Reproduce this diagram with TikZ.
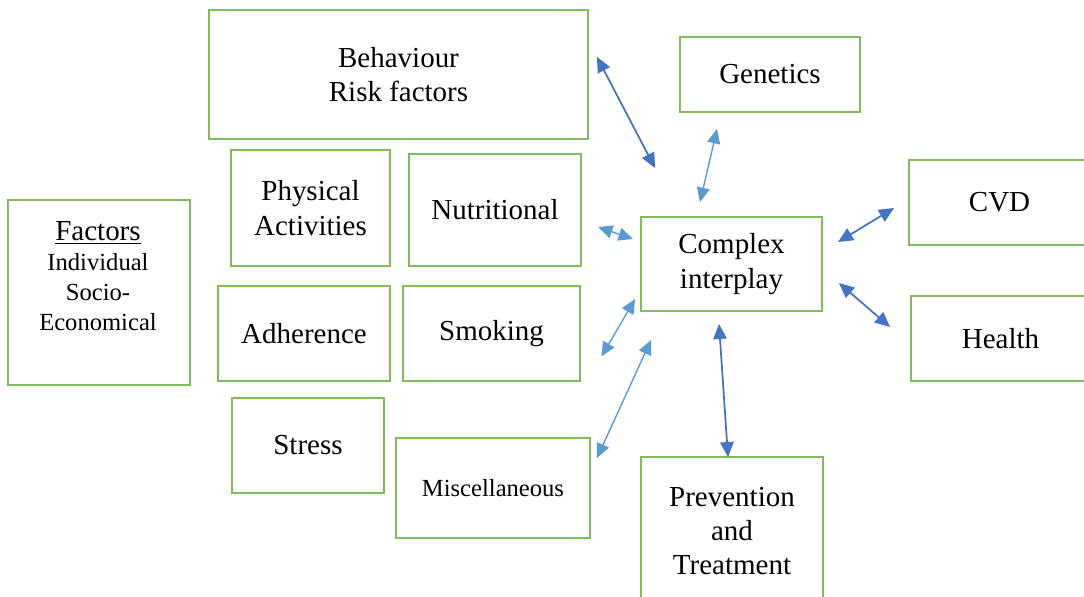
\documentclass[tikz,border=0pt]{standalone}
\usepackage{fontspec}
\setmainfont{Liberation Serif}
\usetikzlibrary{arrows.meta, positioning}

\definecolor{boxgreen}{HTML}{80BC5E}
\definecolor{darkblue}{HTML}{4472C4}
\definecolor{lightblue}{HTML}{5B9BD5}

\begin{document}
\begin{tikzpicture}[
    x=0.02cm, y=-0.02cm,
    box/.style={draw=boxgreen, line width=1.1pt, inner sep=0pt,
        align=center, font=\fontsize{16.5}{19.5}\selectfont},
    sz/.style 2 args={minimum width=#1*0.02cm, minimum height=#2*0.02cm},
    smalltxt/.style={font=\fontsize{14}{17}\selectfont},
    darr/.style={{Triangle[length=3mm, width=2.7mm]}-{Triangle[length=3mm, width=2.7mm]},
        line width=1pt, darkblue},
    larr/.style={{Triangle[length=2.9mm, width=2.6mm]}-{Triangle[length=2.9mm, width=2.6mm]},
        line width=0.8pt, lightblue},
]
    \clip (0,0) rectangle (1084,596);

    % Boxes
    \node[box, sz={379}{129}] (beh) at (398.5,74.5) {Behaviour\\Risk factors};
    \node[box, sz={180}{75}] (gen) at (770,74.5) {Genetics};
    \node[box, sz={159}{116}] (phys) at (310.5,208) {Physical\\Activities};
    \node[box, sz={172}{112}] (nutr) at (495,210) {Nutritional};
    \node[box, sz={182}{185}] (fact) at (99,292.5) {};
    \node[align=center, inner sep=0pt, font=\fontsize{14}{17}\selectfont] (factxt) at (98,276)
        {{\fontsize{16.5}{18}\selectfont\underline{Factors}}\\Individual\\Socio-\\Economical};
    \node[box, sz={181}{94}] (cplx) at (731.5,264) {Complex\\interplay};
    \node[box, sz={181}{85}] (cvd) at (999.5,202.5) {CVD};
    \node[box, sz={179}{85}] (hlth) at (1000.5,338.5) {Health};
    \node[box, sz={172}{95}] (adh) at (304,333.5) {Adherence};
    \node[box, sz={177}{95}] (smok) at (491.5,333.5) {Smoking};
    \node[box, sz={152}{95}] (strs) at (308,445.5) {Stress};
    \node[box, sz={194}{100}, smalltxt] (misc) at (493,488) {Miscellaneous};
    \node[box, sz={182}{148}] (prev) at (732,531) {Prevention\\and\\Treatment};

    % Connectors
    \draw[darr] ([shift={(8,-17.5)}]beh.east) -- ([shift={(15,-48)}]cplx.north west);
    \draw[larr] ([shift={(-53,16)}]gen.south) -- ([shift={(-31.5,-14)}]cplx.north);
    \draw[larr] ([shift={(16,17)}]nutr.east) -- ([shift={(-7,-25)}]cplx.west);
    \draw[larr] ([shift={(20.5,23)}]smok.east) -- ([shift={(-5,-13)}]cplx.south west);
    \draw[larr] ([shift={(6,21)}]misc.north east) -- ([shift={(11,28)}]cplx.south west);
    \draw[darr] ([shift={(-12.5,12)}]cplx.south) -- ([shift={(-4,1)}]prev.north);
    \draw[darr] ([shift={(15,-22)}]cplx.east) -- ([shift={(-14,5.5)}]cvd.west);
    \draw[darr] ([shift={(16,19)}]cplx.east) -- ([shift={(-20,-11.5)}]hlth.west);
\end{tikzpicture}
\end{document}
